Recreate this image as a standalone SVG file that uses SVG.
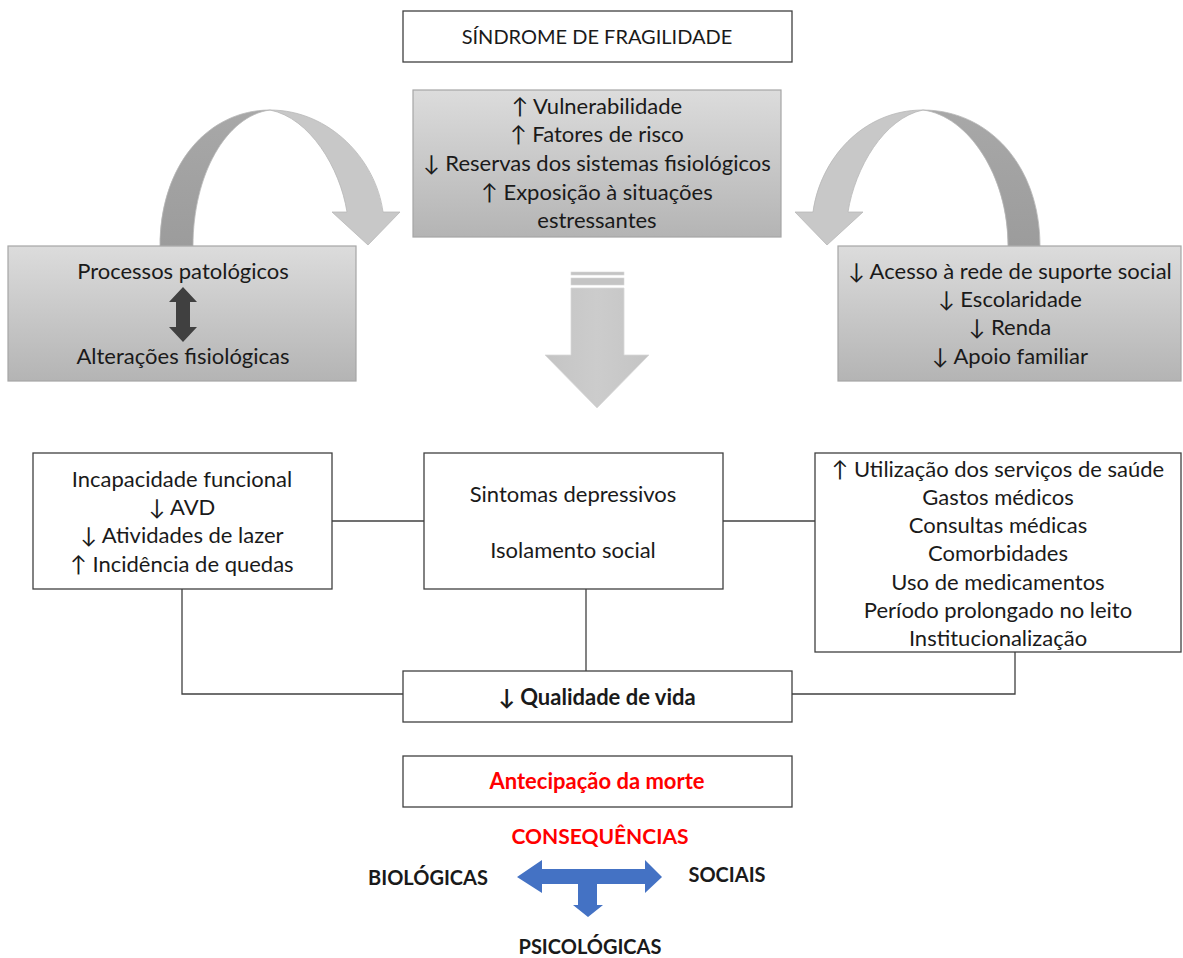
<svg xmlns="http://www.w3.org/2000/svg" width="1183" height="958" viewBox="0 0 1183 958">
  <style>
    text { font-family: Lato, "Open Sans", "Liberation Sans", sans-serif; font-size: 22px; fill: #1a1a1a; text-anchor: middle; }
    .t { font-size: 20px; }
    .b { font-weight: bold; }
    .lbl { font-size: 20px; }
    .red { fill: #ff0000; }
    .white { fill: #ffffff; stroke: #404040; stroke-width: 1.3; }
    .grey { fill: url(#greyFill); stroke: #a6a6a6; stroke-width: 1.2; }
    .link { fill: none; stroke: #404040; stroke-width: 1.3; }
    .bandDark { fill: url(#darkBand); stroke: #b8b8b8; stroke-width: 0.8; }
    .bandLight { fill: #c8c8c8; stroke: #b8b8b8; stroke-width: 0.8; }
  </style>
  <defs>
    <linearGradient id="greyFill" x1="0" y1="0" x2="0" y2="1">
      <stop offset="0" stop-color="#dcdcdc"/>
      <stop offset="1" stop-color="#b4b4b4"/>
    </linearGradient>
    <linearGradient id="darkBand" x1="0" y1="0" x2="0" y2="1">
      <stop offset="0" stop-color="#a8a8a8"/>
      <stop offset="1" stop-color="#9c9c9c"/>
    </linearGradient>
    <linearGradient id="downFill" x1="0" y1="0" x2="1" y2="0">
      <stop offset="0" stop-color="#c4c4c4"/>
      <stop offset="0.5" stop-color="#cccccc"/>
      <stop offset="1" stop-color="#c4c4c4"/>
    </linearGradient>
  </defs>

  <!-- title -->
  <g id="title">
    <rect class="white" x="403" y="11" width="389" height="51"/>
    <text class="t" x="597" y="44">SÍNDROME DE FRAGILIDADE</text>
  </g>

  <!-- curved arrow, left side -->
  <g id="curve-left">
    <path class="bandDark" d="M160,246 C160,165 208,110 270,110 C226,116 193,175 193,246 Z"/>
    <path class="bandLight" d="M270,110 C330,110 376,160 383,212 L400,212 L368,245 L332,212 L347,212 C340,168 310,118 270,110 Z"/>
  </g>

  <!-- curved arrow, right side -->
  <g id="curve-right">
    <path class="bandDark" d="M1040,246 C1040,165 988,110 923,110 C968,116 1008,175 1008,246 Z"/>
    <path class="bandLight" d="M923,110 C862,110 820,160 813,212 L795,212 L827,245 L863,212 L848,212 C855,168 884,118 923,110 Z"/>
  </g>

  <!-- central box -->
  <g id="factors">
    <rect class="grey" x="413" y="90" width="368" height="147"/>
    <text x="597" y="114">↑ Vulnerabilidade</text>
    <text x="597" y="142">↑ Fatores de risco</text>
    <text x="597" y="171">↓ Reservas dos sistemas fisiológicos</text>
    <text x="597" y="200">↑ Exposição à situações</text>
    <text x="597" y="228">estressantes</text>
  </g>

  <!-- left grey box -->
  <g id="biological">
    <rect class="grey" x="8" y="246" width="348" height="135"/>
    <text x="183" y="279">Processos patológicos</text>
    <path d="M183,287 L197,302 L190,302 L190,327 L197,327 L183,342 L169,327 L176,327 L176,302 L169,302 Z" fill="#404040"/>
    <text x="183" y="364">Alterações fisiológicas</text>
  </g>

  <!-- right grey box -->
  <g id="social">
    <rect class="grey" x="838" y="246" width="343" height="135"/>
    <text x="1010" y="279">↓ Acesso à rede de suporte social</text>
    <text x="1010" y="307">↓ Escolaridade</text>
    <text x="1010" y="335">↓ Renda</text>
    <text x="1010" y="364">↓ Apoio familiar</text>
  </g>

  <!-- big down arrow -->
  <g id="down-arrow">
    <rect x="571" y="272" width="53" height="3" fill="#c4c4c4" stroke="#d8d8d8" stroke-width="0.6"/>
    <rect x="571" y="278" width="53" height="7" fill="#c4c4c4" stroke="#d8d8d8" stroke-width="0.6"/>
    <path d="M571,288 L624,288 L624,355 L649,355 L597,408 L545,355 L571,355 Z" fill="url(#downFill)" stroke="#d8d8d8" stroke-width="0.8"/>
  </g>

  <!-- connectors -->
  <g id="connectors">
    <line class="link" x1="332" y1="521" x2="424" y2="521"/>
    <line class="link" x1="723" y1="521" x2="815" y2="521"/>
    <polyline class="link" points="182,589 182,694 403,694"/>
    <line class="link" x1="586" y1="589" x2="586" y2="671"/>
    <polyline class="link" points="1015,652 1015,694 792,694"/>
  </g>

  <g id="functional">
    <rect class="white" x="33" y="453" width="299" height="136"/>
    <text x="182" y="487">Incapacidade funcional</text>
    <text x="182" y="515">↓ AVD</text>
    <text x="182" y="543">↓ Atividades de lazer</text>
    <text x="182" y="572">↑ Incidência de quedas</text>
  </g>

  <g id="psychological">
    <rect class="white" x="424" y="453" width="299" height="136"/>
    <text x="573" y="502">Sintomas depressivos</text>
    <text x="573" y="558">Isolamento social</text>
  </g>

  <g id="health-services">
    <rect class="white" x="815" y="453" width="366" height="199"/>
    <text x="998" y="477">↑ Utilização dos serviços de saúde</text>
    <text x="998" y="505">Gastos médicos</text>
    <text x="998" y="533">Consultas médicas</text>
    <text x="998" y="561">Comorbidades</text>
    <text x="998" y="590">Uso de medicamentos</text>
    <text x="998" y="618">Período prolongado no leito</text>
    <text x="998" y="646">Institucionalização</text>
  </g>

  <g id="quality">
    <rect class="white" x="403" y="671" width="389" height="51"/>
    <text class="b" x="597" y="705">↓ Qualidade de vida</text>
  </g>

  <g id="death">
    <rect class="white" x="403" y="756" width="389" height="51"/>
    <text class="b red" x="597" y="789">Antecipação da morte</text>
  </g>

  <!-- consequences -->
  <g id="consequences">
    <text class="b red" x="600" y="844" style="font-size:21px">CONSEQUÊNCIAS</text>
    <text class="b lbl" x="428" y="885">BIOLÓGICAS</text>
    <text class="b lbl" x="727" y="882">SOCIAIS</text>
    <text class="b lbl" x="590" y="954">PSICOLÓGICAS</text>
    <path d="M517,877 L542,860 L542,869 L645,869 L645,860 L662,877 L645,893 L645,884 L597,884 L597,905 L603,905 L588,917 L573,905 L578,905 L578,884 L542,884 L542,893 Z" fill="#4472c4"/>
  </g>
</svg>
